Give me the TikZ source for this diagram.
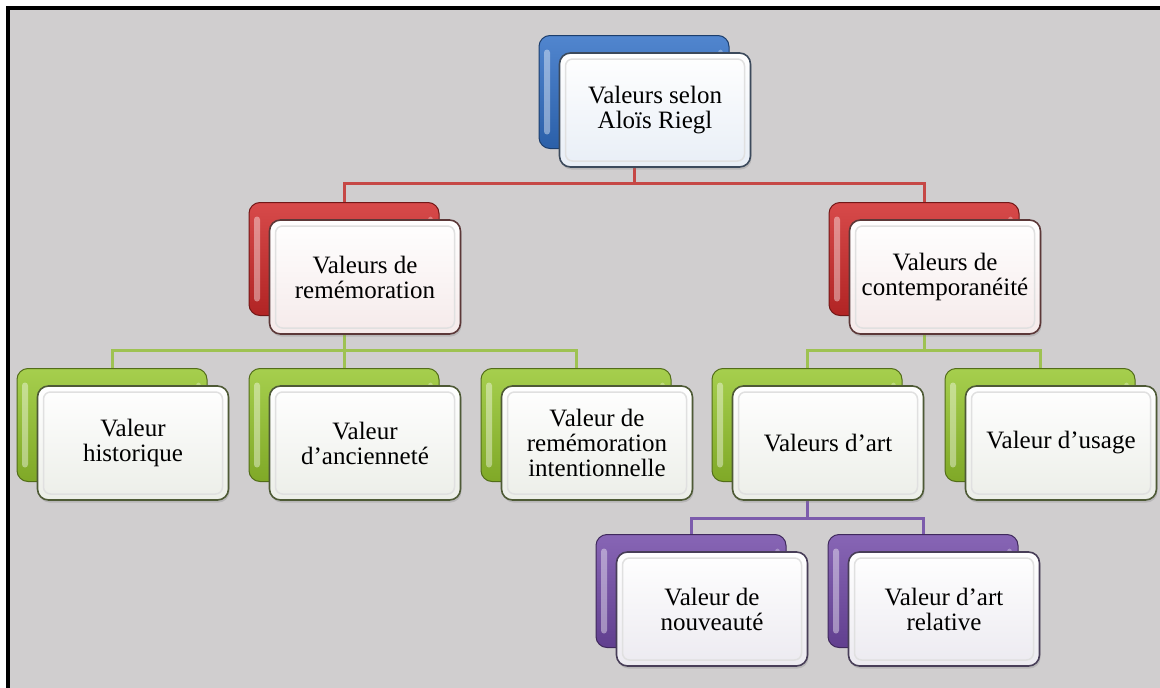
\documentclass[tikz,border=0pt]{standalone}
\usepackage{fontspec}
\setmainfont{Liberation Serif}
\usetikzlibrary{shadows}

\definecolor{bggray}{RGB}{208,206,207}
\definecolor{blueA}{RGB}{50,112,198}
\definecolor{redA}{RGB}{208,42,42}
\definecolor{greenA}{RGB}{150,198,46}
\definecolor{purpleA}{RGB}{114,74,168}
\definecolor{redL}{RGB}{198,72,70}
\definecolor{greenL}{RGB}{158,194,82}
\definecolor{purpleL}{RGB}{124,92,172}
\definecolor{blueF}{RGB}{232,238,246}
\definecolor{redF}{RGB}{245,234,234}
\definecolor{greenF}{RGB}{236,238,232}
\definecolor{purpleF}{RGB}{236,234,240}
\definecolor{blueB}{RGB}{60,74,92}
\definecolor{redB}{RGB}{92,56,56}
\definecolor{greenB}{RGB}{78,90,54}
\definecolor{purpleB}{RGB}{72,62,88}

\pgfdeclarelayer{under}
\pgfsetlayers{under,main}

\tikzset{
  back/.style={draw=#1!55!black, line width=1pt, top color=#1!85!white,
    bottom color=#1!85!black, rounded corners=11pt,
    minimum width=190pt, minimum height=113pt, inner sep=0pt,
    path picture={
      \fill[white,opacity=.4,rounded corners=3pt]
        ([xshift=5pt,yshift=-14pt]path picture bounding box.north west) rectangle
        ([xshift=11pt,yshift=14pt]path picture bounding box.south west);
      \fill[white,opacity=.3,rounded corners=3pt]
        ([xshift=-11pt,yshift=-14pt]path picture bounding box.north east) rectangle
        ([xshift=-6pt,yshift=14pt]path picture bounding box.south east);
    }},
  front/.style 2 args={draw=#1, line width=1.6pt, rounded corners=11pt,
    top color=white, bottom color=#2, minimum width=191pt, minimum height=114pt,
    inner sep=0pt, align=center, text=black,
    font=\fontsize{25}{25}\selectfont,
    drop shadow={opacity=.3, shadow xshift=1pt, shadow yshift=-2.5pt},
    path picture={
      \draw[black!12,line width=1.5pt,rounded corners=7pt]
        ([xshift=6pt,yshift=-6pt]path picture bounding box.north west) rectangle
        ([xshift=-6pt,yshift=6pt]path picture bounding box.south east);
    }},
  link/.style={draw=#1, line width=3pt}
}

\begin{document}
\begin{tikzpicture}[x=1pt,y=-1pt]
\useasboundingbox (0,0) rectangle (1160,688);

\coordinate (bus1) at (0,183);
\coordinate (bus2) at (0,350);
\coordinate (bus3) at (0,518);

\node[back=blueA] (riegl-b) at (634,92) {};
\node[front={blueB}{blueF}] (riegl) at (655,110) {Valeurs selon\\Aloïs Riegl};

\node[back=redA] (rem-b) at (344,259) {};
\node[front={redB}{redF}] (rem) at (365,277) {Valeurs de\\remémoration};
\node[back=redA] (cont-b) at (924,259) {};
\node[front={redB}{redF}] (cont) at (945,277) {Valeurs de\\contemporanéité};

\node[back=greenA] (hist-b) at (112,425) {};
\node[front={greenB}{greenF}] (hist) at (133,443) {Valeur\\historique};
\node[back=greenA] (anc-b) at (344,425) {};
\node[front={greenB}{greenF}] (anc) at (365,443) {Valeur\\d’ancienneté};
\node[back=greenA] (int-b) at (576,425) {};
\node[front={greenB}{greenF}] (int) at (597,443) {Valeur de\\remémoration\\intentionnelle};
\node[back=greenA] (art-b) at (807,425) {};
\node[front={greenB}{greenF}] (art) at (828,443) {Valeurs d’art};
\node[back=greenA] (usage-b) at (1040,425) {};
\node[front={greenB}{greenF}] (usage) at (1061,443) {Valeur d’usage};

\node[back=purpleA] (nouv-b) at (691,591) {};
\node[front={purpleB}{purpleF}] (nouv) at (712,609) {Valeur de\\nouveauté};
\node[back=purpleA] (rel-b) at (923,591) {};
\node[front={purpleB}{purpleF}] (rel) at (944,609) {Valeur d’art\\relative};

\begin{pgfonlayer}{under}
\fill[white] (0,0) rectangle (1160,688);
\fill[bggray] (8,8) rectangle (1160,688);
\draw[line width=4pt] (8,688) -- (8,8) -- (1160,8);
\draw[link=redL] (riegl-b.center) -- (riegl-b.center |- bus1) -| (rem-b.north)
  (riegl-b.center |- bus1) -| (cont-b.north);
\draw[link=greenL] (rem-b.center) -- (rem-b.center |- bus2) -| (hist-b.north)
  (rem-b.center |- bus2) -| (int-b.north)
  (rem-b.center |- bus2) -- (anc-b.north);
\draw[link=greenL] (cont-b.center) -- (cont-b.center |- bus2) -| (art-b.north)
  (cont-b.center |- bus2) -| (usage-b.north);
\draw[link=purpleL] (art-b.center) -- (art-b.center |- bus3) -| (nouv-b.north)
  (art-b.center |- bus3) -| (rel-b.north);
\end{pgfonlayer}
\end{tikzpicture}
\end{document}
